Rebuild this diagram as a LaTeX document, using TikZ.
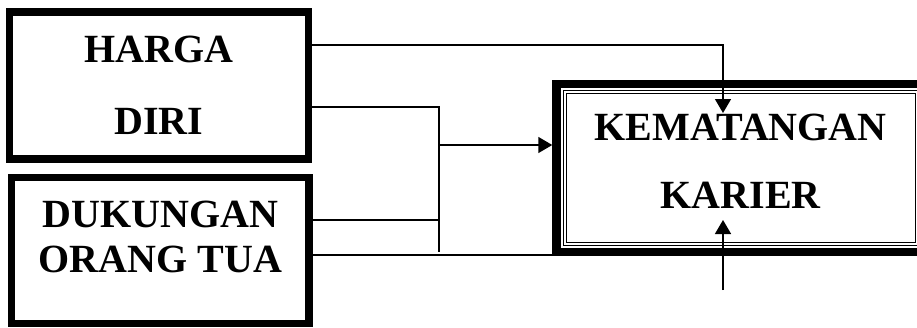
\documentclass[tikz,border=0pt]{standalone}
\usepackage{fontspec}
\usepackage{xcolor,tikz}
\usetikzlibrary{arrows.meta,positioning,calc}
\setmainfont{Liberation Serif}
\definecolor{ink}{RGB}{0,0,0}
\tikzset{
  factor/.style={draw=ink, line width=7.5pt, inner sep=0pt, align=center, font=\bfseries\fontsize{40}{72}\selectfont},
  outcome/.style={factor, line width=8.5pt, font=\bfseries\fontsize{40}{68}\selectfont},
  innerline/.style={draw=ink, line width=1.2pt},
  link/.style={draw=ink, line width=1.5pt},
  flow/.style={link, -{Triangle[length=14pt,width=16pt]}}
}
\begin{document}
\begin{tikzpicture}[x=1pt,y=-1pt]
  \path[use as bounding box] (0,0) rectangle (917,327);
  \clip (0,0) rectangle (917,327);
  % variables
  \node[factor, minimum width=299, minimum height=147] (harga) at (159,85.5) {HARGA\\DIRI};
  \node[factor, minimum width=297.5, minimum height=146, font=\bfseries\fontsize{40}{45}\selectfont] (dukungan) at (160.25,250.5) {DUKUNGAN\\ORANG TUA\\[-18pt]\mbox{}};
  \node[outcome, minimum width=368.5, minimum height=168] (kk) at (740.75,168) {KEMATANGAN\\KARIER\\[-54pt]\mbox{}};
  \draw[innerline] ($(kk.north west)+(11,11)$) rectangle ($(kk.south east)+(-11,-11)$);
  \draw[innerline] ($(kk.north west)+(14,14)$) rectangle ($(kk.south east)+(-14,-14)$);
  % junction points
  \coordinate (bustop) at (439,107);
  \coordinate (busmid) at (439,145);
  \coordinate (busbot) at (439,252);
  \coordinate (kktop) at (723,113);
  \coordinate (kkbot) at (723,220);
  \coordinate (other) at (723,290);
  % connectors
  \draw[flow] (harga.east |- 0,45) -| (kktop);
  \draw[link] (harga.east |- bustop) -- (bustop) -- (busbot);
  \draw[link] (dukungan.east |- 0,220) -- (bustop |- 0,220);
  \draw[link] (dukungan.east |- 0,255) -- (kk.west |- 0,255);
  \draw[flow] (busmid) -- (kk.west |- busmid);
  \draw[flow] (other) -- (kkbot);
\end{tikzpicture}
\end{document}
